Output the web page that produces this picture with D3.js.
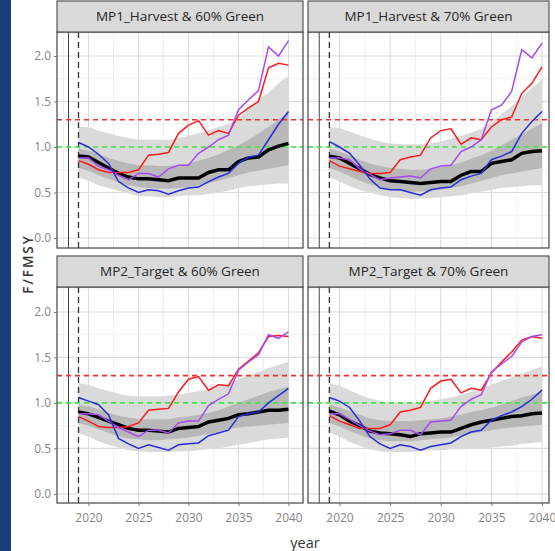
<!DOCTYPE html>
<html><head><meta charset="utf-8">
<script src="https://cdn.jsdelivr.net/npm/d3@7"></script>
<style>body{margin:0;background:#fff}svg{display:block}</style>
</head><body>
<script>
// ---------- data ----------
const years = d3.range(2019, 2041);
const panelTitles = ["MP1_Harvest & 60% Green", "MP1_Harvest & 70% Green", "MP2_Target & 60% Green", "MP2_Target & 70% Green"];
const yTicks = [0, 0.5, 1, 1.5, 2];
const yTickLabels = ["0.0", "0.5", "1.0", "1.5", "2.0"];
const xTicks = [2020, 2025, 2030, 2035, 2040];
const refLimit = 1.3, refTarget = 1.0;
const vSolidYear = 2018, vDashYear = 2019;
const yTitle = "F/FMSY", xTitle = "year";

const medianF = [
  [0.90,0.89,0.83,0.77,0.71,0.67,0.65,0.65,0.64,0.63,0.66,0.66,0.66,0.72,0.75,0.75,0.84,0.88,0.89,0.97,1.01,1.04],
  [0.90,0.88,0.82,0.76,0.70,0.66,0.63,0.62,0.61,0.60,0.61,0.62,0.62,0.69,0.73,0.73,0.82,0.84,0.86,0.93,0.95,0.96],
  [0.90,0.88,0.84,0.80,0.76,0.72,0.70,0.70,0.69,0.68,0.72,0.73,0.74,0.79,0.81,0.83,0.87,0.88,0.90,0.92,0.92,0.93],
  [0.91,0.87,0.80,0.75,0.69,0.67,0.66,0.65,0.63,0.66,0.67,0.68,0.68,0.72,0.76,0.79,0.81,0.83,0.85,0.86,0.88,0.89]
];
const worm1 = [ // red
  [0.85,0.81,0.75,0.72,0.72,0.72,0.75,0.91,0.92,0.94,1.15,1.24,1.29,1.13,1.18,1.15,1.35,1.43,1.50,1.87,1.92,1.90],
  [0.85,0.79,0.76,0.73,0.71,0.71,0.72,0.86,0.89,0.91,1.10,1.18,1.20,1.03,1.10,1.08,1.22,1.30,1.33,1.59,1.70,1.88],
  [0.85,0.80,0.74,0.73,0.73,0.74,0.78,0.92,0.93,0.94,1.12,1.26,1.29,1.14,1.20,1.19,1.37,1.46,1.55,1.73,1.74,1.73],
  [0.86,0.80,0.76,0.72,0.72,0.72,0.76,0.90,0.92,0.95,1.16,1.24,1.26,1.11,1.16,1.14,1.33,1.45,1.56,1.69,1.73,1.71]
];
const worm2 = [ // purple
  [0.88,0.88,0.79,0.75,0.69,0.64,0.71,0.71,0.67,0.76,0.80,0.80,0.93,1.00,1.08,1.13,1.41,1.52,1.62,2.10,2.00,2.17],
  [0.88,0.88,0.86,0.76,0.70,0.64,0.66,0.67,0.68,0.66,0.76,0.79,0.80,0.95,1.00,1.08,1.41,1.46,1.61,2.07,1.98,2.14],
  [0.88,0.88,0.87,0.80,0.73,0.68,0.63,0.70,0.70,0.67,0.78,0.80,0.80,0.97,1.04,1.10,1.36,1.45,1.53,1.75,1.71,1.78],
  [0.88,0.88,0.82,0.75,0.69,0.65,0.66,0.70,0.70,0.65,0.79,0.80,0.81,0.96,1.04,1.09,1.34,1.43,1.51,1.67,1.73,1.75]
];
const worm3 = [ // blue
  [1.05,1.00,0.92,0.82,0.62,0.55,0.50,0.53,0.52,0.48,0.52,0.55,0.56,0.62,0.67,0.71,0.82,0.89,0.91,1.08,1.25,1.39],
  [1.06,1.00,0.93,0.80,0.65,0.55,0.53,0.53,0.50,0.47,0.53,0.55,0.56,0.64,0.68,0.71,0.86,0.90,0.95,1.15,1.28,1.39],
  [1.06,1.02,0.98,0.87,0.61,0.55,0.50,0.54,0.51,0.48,0.54,0.55,0.56,0.64,0.67,0.70,0.85,0.88,0.90,1.00,1.08,1.16],
  [1.06,1.02,0.95,0.80,0.63,0.55,0.50,0.54,0.52,0.48,0.52,0.54,0.56,0.63,0.68,0.70,0.81,0.86,0.90,0.96,1.04,1.14]
];
const outerHi = [
  [1.22,1.22,1.18,1.15,1.12,1.10,1.08,1.08,1.08,1.08,1.10,1.12,1.15,1.18,1.22,1.25,1.32,1.42,1.52,1.60,1.70,1.78],
  [1.22,1.21,1.17,1.13,1.09,1.06,1.04,1.03,1.03,1.03,1.04,1.06,1.09,1.12,1.16,1.20,1.27,1.36,1.45,1.55,1.65,1.74],
  [1.22,1.20,1.16,1.13,1.10,1.08,1.07,1.07,1.07,1.08,1.09,1.11,1.13,1.15,1.18,1.22,1.26,1.30,1.34,1.38,1.42,1.45],
  [1.22,1.19,1.14,1.09,1.05,1.02,1.00,1.00,1.00,1.01,1.02,1.04,1.06,1.09,1.12,1.16,1.20,1.24,1.28,1.32,1.36,1.40]
];
const outerLo = [
  [0.67,0.63,0.58,0.55,0.52,0.49,0.46,0.46,0.45,0.45,0.46,0.47,0.47,0.48,0.50,0.52,0.55,0.57,0.58,0.59,0.60,0.60],
  [0.67,0.62,0.57,0.53,0.50,0.47,0.45,0.44,0.43,0.43,0.44,0.45,0.46,0.47,0.49,0.51,0.53,0.55,0.56,0.57,0.58,0.58],
  [0.67,0.63,0.58,0.54,0.51,0.48,0.47,0.46,0.46,0.46,0.47,0.47,0.48,0.49,0.50,0.52,0.54,0.56,0.58,0.60,0.61,0.62],
  [0.68,0.63,0.57,0.53,0.49,0.47,0.46,0.46,0.46,0.47,0.48,0.48,0.49,0.49,0.50,0.50,0.51,0.52,0.53,0.55,0.56,0.57]
];
const innerHi = [
  [0.98,0.96,0.92,0.88,0.85,0.82,0.80,0.80,0.79,0.79,0.80,0.82,0.85,0.88,0.92,0.97,1.02,1.08,1.15,1.22,1.30,1.38],
  [0.98,0.95,0.91,0.86,0.82,0.79,0.77,0.76,0.75,0.75,0.76,0.78,0.80,0.83,0.87,0.91,0.96,1.02,1.08,1.14,1.20,1.26],
  [0.98,0.96,0.93,0.89,0.86,0.84,0.82,0.82,0.82,0.82,0.84,0.85,0.87,0.89,0.92,0.96,1.00,1.04,1.08,1.12,1.15,1.18],
  [0.98,0.95,0.91,0.87,0.83,0.81,0.80,0.80,0.80,0.81,0.82,0.83,0.85,0.87,0.90,0.92,0.95,0.98,1.02,1.06,1.09,1.12]
];
const innerLo = [
  [0.77,0.74,0.69,0.65,0.61,0.58,0.56,0.55,0.54,0.54,0.55,0.56,0.58,0.60,0.63,0.66,0.69,0.72,0.74,0.76,0.78,0.80],
  [0.77,0.73,0.68,0.63,0.59,0.56,0.53,0.52,0.51,0.51,0.52,0.53,0.55,0.57,0.60,0.63,0.66,0.69,0.71,0.73,0.75,0.77],
  [0.78,0.75,0.71,0.67,0.63,0.61,0.60,0.59,0.59,0.60,0.61,0.62,0.64,0.66,0.68,0.71,0.73,0.74,0.75,0.76,0.77,0.78],
  [0.78,0.74,0.69,0.65,0.61,0.59,0.58,0.58,0.58,0.59,0.60,0.61,0.62,0.64,0.66,0.68,0.70,0.72,0.73,0.74,0.75,0.76]
];

// ---------- layout ----------
const W = 555, H = 551;
const font = "'Open Sans', 'Liberation Sans', sans-serif";
const cols = [
  {x0: 57, x1: 303, dom: [2016.85, 2041.45]},
  {x0: 308, x1: 549, dom: [2016.89, 2040.69]}
];
const rows = [
  {s0: 1, y0: 32, y1: 248, dom: [-0.11, 2.264]},
  {s0: 256, y0: 287, y1: 503, dom: [-0.10, 2.274]}
];
const wormColors = ["#ff1a1a", "#a64bf0", "#2b2bdc"];

const svg = d3.select("body").append("svg").attr("width", W).attr("height", H);
svg.append("rect").attr("width", W).attr("height", H).attr("fill", "#fff");
svg.append("rect").attr("x", 0).attr("y", 0).attr("width", 11).attr("height", H).attr("fill", "#173f7d");

panelTitles.forEach((title, i) => {
  const c = cols[i % 2], r = rows[Math.floor(i / 2)];
  const x = d3.scaleLinear().domain(c.dom).range([c.x0, c.x1]);
  const y = d3.scaleLinear().domain(r.dom).range([r.y1, r.y0]);
  const g = svg.append("g");
  const clipId = "clip" + i;
  g.append("clipPath").attr("id", clipId).append("rect")
    .attr("x", c.x0).attr("y", r.y0).attr("width", c.x1 - c.x0).attr("height", r.y1 - r.y0);
  const pg = g.append("g").attr("clip-path", `url(#${clipId})`);

  // grid
  const minorY = d3.range(0.25, 2.3, 0.5);
  const minorX = [2017.5, 2022.5, 2027.5, 2032.5, 2037.5];
  pg.selectAll(".my").data(minorY).join("line")
    .attr("x1", c.x0).attr("x2", c.x1).attr("y1", d => y(d)).attr("y2", d => y(d))
    .attr("stroke", "#ececec").attr("stroke-width", 0.8);
  pg.selectAll(".mx").data(minorX).join("line")
    .attr("y1", r.y0).attr("y2", r.y1).attr("x1", d => x(d)).attr("x2", d => x(d))
    .attr("stroke", "#ececec").attr("stroke-width", 0.8);
  pg.selectAll(".gy").data(yTicks).join("line")
    .attr("x1", c.x0).attr("x2", c.x1).attr("y1", d => y(d)).attr("y2", d => y(d))
    .attr("stroke", "#dcdcdc").attr("stroke-width", 1.1);
  pg.selectAll(".gx").data(xTicks).join("line")
    .attr("y1", r.y0).attr("y2", r.y1).attr("x1", d => x(d)).attr("x2", d => x(d))
    .attr("stroke", "#dcdcdc").attr("stroke-width", 1.1);

  // ribbons
  const band = (lo, hi) => d3.area().x((d, k) => x(years[k])).y0((d, k) => y(lo[k])).y1((d, k) => y(hi[k]));
  pg.append("path").attr("d", band(outerLo[i], outerHi[i])(years)).attr("fill", "#dadada");
  pg.append("path").attr("d", band(innerLo[i], innerHi[i])(years)).attr("fill", "#b8b8b8");

  // vertical lines
  pg.append("line").attr("x1", x(vSolidYear)).attr("x2", x(vSolidYear)).attr("y1", r.y0).attr("y2", r.y1)
    .attr("stroke", "#444").attr("stroke-width", 1);
  pg.append("line").attr("x1", x(vDashYear)).attr("x2", x(vDashYear)).attr("y1", r.y0).attr("y2", r.y1)
    .attr("stroke", "#333").attr("stroke-width", 1.3).attr("stroke-dasharray", "6,4");

  // reference lines
  pg.append("line").attr("x1", c.x0).attr("x2", c.x1).attr("y1", y(refLimit)).attr("y2", y(refLimit))
    .attr("stroke", "#ff2a2a").attr("stroke-width", 1.6).attr("stroke-dasharray", "5,4");
  pg.append("line").attr("x1", c.x0).attr("x2", c.x1).attr("y1", y(refTarget)).attr("y2", y(refTarget))
    .attr("stroke", "#3ee83e").attr("stroke-width", 1.6).attr("stroke-dasharray", "5,4");

  const line = vals => d3.line().x((d, k) => x(years[k])).y((d, k) => y(vals[k]))(years);
  pg.append("path").attr("d", line(medianF[i])).attr("fill", "none").attr("stroke", "#000").attr("stroke-width", 3.5);
  [worm1, worm2, worm3].forEach((w, j) => {
    pg.append("path").attr("d", line(w[i])).attr("fill", "none").attr("stroke", wormColors[j]).attr("stroke-width", 1.5);
  });

  // border
  g.append("rect").attr("x", c.x0).attr("y", r.y0).attr("width", c.x1 - c.x0).attr("height", r.y1 - r.y0)
    .attr("fill", "none").attr("stroke", "#444").attr("stroke-width", 1.2);

  // strip
  g.append("rect").attr("x", c.x0).attr("y", r.s0).attr("width", c.x1 - c.x0).attr("height", r.y0 - r.s0)
    .attr("fill", "#d9d9d9").attr("stroke", "#555").attr("stroke-width", 1.2);
  g.append("text").attr("x", (c.x0 + c.x1) / 2).attr("y", (r.s0 + r.y0) / 2 + 1)
    .attr("text-anchor", "middle").attr("dominant-baseline", "middle")
    .attr("font-family", font).attr("font-size", 13.5).attr("fill", "#262626").text(title);

  // axes
  if (i % 2 === 0) {
    const ax = d3.axisLeft(y).tickValues(yTicks).tickFormat((d, k) => yTickLabels[k]).tickSize(3).tickPadding(3);
    const a = g.append("g").attr("transform", `translate(${c.x0},0)`).call(ax);
    a.select(".domain").remove();
    a.selectAll("line").attr("stroke", "#777");
    a.selectAll("text").attr("font-family", font).attr("font-size", 12).attr("fill", "#868686");
  }
  if (i >= 2) {
    const ax = d3.axisBottom(x).tickValues(xTicks).tickFormat(d3.format("d")).tickSize(3).tickPadding(7);
    const a = g.append("g").attr("transform", `translate(0,${r.y1})`).call(ax);
    a.select(".domain").remove();
    a.selectAll("line").attr("stroke", "#777");
    a.selectAll("text").attr("font-family", font).attr("font-size", 12).attr("fill", "#868686");
  }
});

svg.append("text").attr("x", 305).attr("y", 548).attr("text-anchor", "middle")
  .attr("font-family", font).attr("font-size", 14.5).attr("fill", "#333").text(xTitle);
svg.append("text").attr("transform", "translate(33,264) rotate(-90)").attr("text-anchor", "middle")
  .attr("font-family", font).attr("font-size", 13.5).attr("font-weight", 600).attr("letter-spacing", 2).attr("fill", "#333").text(yTitle);
</script>
</body></html>
